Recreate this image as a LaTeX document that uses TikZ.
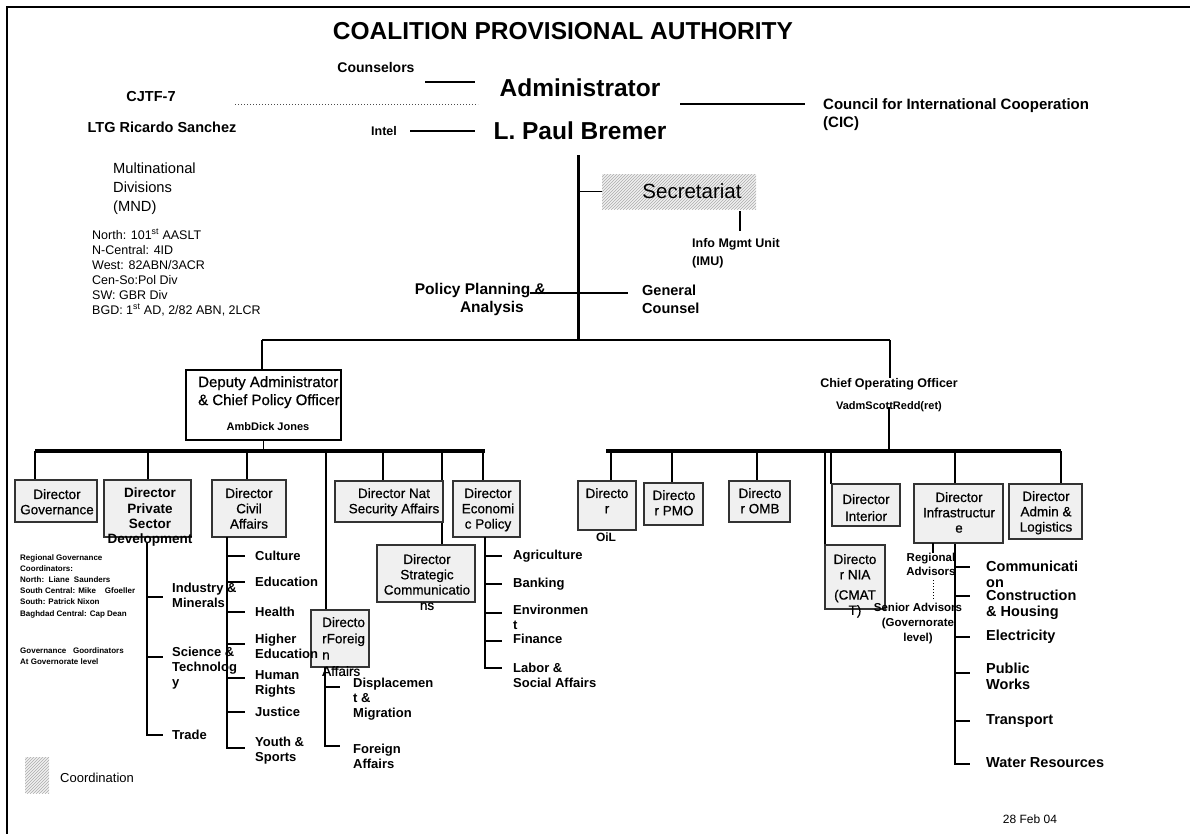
\documentclass[tikz,border=0pt]{standalone}
\usepackage{fontspec}
\setmainfont{Liberation Sans}
\newfontfamily\medfont[FakeBold=0.6]{Liberation Sans}
\usetikzlibrary{patterns}

\newcommand{\fsz}[2]{\fontsize{#1}{#2}\selectfont}

\tikzset{
  every node/.style={inner sep=0pt},
  dbox/.style={draw=black!80, fill=gray!12, line width=1.2pt},
  dtext/.style={align=center, anchor=north, font=\medfont\fsz{13.5}{15.3}},
  sub/.style={anchor=west, align=left, font=\bfseries\fsz{13}{15}},
  infsub/.style={anchor=west, align=left, font=\bfseries\fsz{14.5}{16}},
  lbl/.style={font=\bfseries\fsz{14.5}{17}},
  link/.style={line width=1.3pt},
  bar/.style={line width=3.5pt},
  hatch/.style={fill=gray!12, postaction={pattern=north east lines, pattern color=gray!65}},
}

\begin{document}
\begin{tikzpicture}[x=1pt, y=-1pt]
  \useasboundingbox (0,0) rectangle (1190,833);
  \draw[line width=1.5pt] (7,840) |- (1195,7);

  % top
  \node[font=\bfseries\fsz{24.5}{28}] (title) at (563,31) {COALITION PROVISIONAL AUTHORITY};
  \node[font=\bfseries\fsz{24.5}{28}] (admin) at (580,88) {Administrator};
  \node[font=\bfseries\fsz{24.5}{28}] (bremer) at (580,131) {L. Paul Bremer};
  \node[lbl, font=\bfseries\fsz{14}{17}] (couns) at (376,67) {Counselors};
  \node[font=\bfseries\fsz{12.5}{14}] (intel) at (384,131) {Intel};
  \node[lbl] (cjtf) at (151,97) {CJTF-7};
  \node[lbl] (ltg) at (162,127) {LTG Ricardo Sanchez};
  \node[anchor=west, align=left, font=\bfseries\fsz{15}{18}] (cic) at (823,115)
    {Council for International Cooperation\\(CIC)};

  \coordinate (c1) at (425,82);  \coordinate (c2) at (475,82);
  \coordinate (i1) at (410,131); \coordinate (i2) at (475,131);
  \coordinate (j1) at (235,104); \coordinate (j2) at (478,104);
  \coordinate (k1) at (680,104); \coordinate (k2) at (805,104);
  \draw[link] (c1) -- (c2);
  \draw[link] (i1) -- (i2);
  \draw[link] (k1) -- (k2);
  \draw[line width=1pt, dotted, black!70] (j1) -- (j2);

  % MND
  \node[anchor=north west, align=left, font=\fsz{14.7}{19}] (mnd) at (113,163)
    {Multinational\\Divisions\\(MND)};
  \node[anchor=north west, align=left, font=\fsz{12.5}{15}] (divs) at (92,229)
    {North: 101\textsuperscript{st} AASLT\\N-Central: 4ID\\West: 82ABN/3ACR\\Cen-So:Pol Div\\SW: GBR Div\\BGD: 1\textsuperscript{st} AD, 2/82 ABN, 2LCR};

  % trunk and staff
  \coordinate (t1) at (578,155);
  \coordinate (t2) at (578,340);
  \draw[line width=3pt] (t1) -- (t2);
  \node[hatch, minimum width=154pt, minimum height=35pt] (sec) at (679,191.5) {};
  \node[font=\fsz{20.5}{24}] (sect) at (692,191) {Secretariat};
  \draw[link] (t1 |- sec.west) -- (sec.west);
  \coordinate (imu1) at (740,211);
  \draw[link] (imu1) -- ++(0,20);
  \node[anchor=west, align=left, font=\bfseries\fsz{12.5}{18}] (imu) at (692,253) {Info Mgmt Unit\\(IMU)};
  \coordinate (pp1) at (530,293); \coordinate (pp2) at (628,293);
  \draw[link] (pp1) -- (pp2);
  \node[anchor=north east, align=right, font=\bfseries\fsz{15.5}{18}] (ppa) at (546,283)
    {Policy Planning \&\\Analysis\hspace*{22pt}};
  \node[anchor=west, align=left, font=\bfseries\fsz{14.5}{18}] (gc) at (642,299) {General\\Counsel};

  % deputy and coo
  \coordinate (h1) at (262,340); \coordinate (h2) at (890,340);
  \draw[link] (h1) -- (h2);
  \node[draw, fill=white, line width=1.2pt, minimum width=155pt, minimum height=70pt] (dep) at (263.5,405) {};
  \draw[link] (h1) -- (h1 |- dep.north);
  \node[anchor=north west, align=left, font=\medfont\fsz{15}{18}] (dept) at (198,376)
    {Deputy Administrator\\\& Chief Policy Officer};
  \node[font=\bfseries\fsz{11}{13}] (jones) at (268,427) {AmbDick Jones};
  \node[font=\bfseries\fsz{12.5}{15}] (coo) at (889,384) {Chief Operating Officer};
  \node[font=\bfseries\fsz{11}{13}] (redd) at (889,407) {VadmScottRedd(ret)};
  \draw[link] (h2) -- (h2 |- coo.north);

  % director bars
  \coordinate (lb1) at (35,451);  \coordinate (lb2) at (485,451);
  \coordinate (rb1) at (606,451); \coordinate (rb2) at (1061,451);
  \draw[link] (dep.south) -- (dep.south |- lb1);
  \draw[link] (redd.center) -- (redd.center |- rb1);
  \draw[bar] (lb1) -- (lb2);
  \draw[bar] (rb1) -- (rb2);

  % drops
  \foreach \x/\y in {35/480, 148/480, 247/480, 326/610, 383/481, 442/545, 483/481,
                     611/481, 672/483, 757/481, 825/545, 831/484, 1061/484}
    \draw[link] (\x,451) -- (\x,\y);
  \draw[link] (955,451) -- (955,764) -- (970,764);

  % left directors
  \node[dbox, minimum width=82pt, minimum height=42pt] (gov) at (56,501) {};
  \node[dbox, minimum width=87pt, minimum height=57pt] (psd) at (147.5,508.5) {};
  \node[dbox, minimum width=74pt, minimum height=57pt] (civ) at (249,508.5) {};
  \node[dbox, minimum width=108pt, minimum height=41pt] (nat) at (389,501.5) {};
  \node[dbox, minimum width=98pt, minimum height=57pt] (strat) at (426,573.5) {};
  \node[dbox, minimum width=67pt, minimum height=56pt] (eco) at (486.5,509) {};
  \node[dbox, minimum width=58pt, minimum height=57pt] (fgn) at (340,638.5) {};

  \node[dtext] (govt) at (57,489) {Director\\Governance};
  \node[dtext, font=\bfseries\fsz{13.5}{15.3}] (psdt) at (150,488) {Director\\Private\\Sector\\Development};
  \node[dtext] (civt) at (249,488) {Director\\Civil\\Affairs};
  \node[dtext] (natt) at (394,488) {Director Nat\\Security Affairs};
  \node[dtext] (stratt) at (427,554) {Director\\Strategic\\Communicatio\\ns};
  \node[dtext] (ecot) at (488,488) {Director\\Economi\\c Policy};
  \node[dtext, anchor=north west, align=left, font=\medfont\fsz{13.5}{16.3}] (fgnt) at (322,617) {Directo\\rForeig\\n\\Affairs};

  % right directors
  \node[dbox, minimum width=58pt, minimum height=49pt] (oil) at (607,505.5) {};
  \node[dbox, minimum width=59pt, minimum height=42pt] (pmo) at (673.5,504) {};
  \node[dbox, minimum width=61pt, minimum height=41pt] (omb) at (759.5,501.5) {};
  \node[dbox, minimum width=60pt, minimum height=64pt] (nia) at (855,577) {};
  \node[dbox, minimum width=68pt, minimum height=42pt] (int) at (866,505) {};
  \node[dbox, minimum width=89pt, minimum height=59pt] (inf) at (958.5,513.5) {};
  \node[dbox, minimum width=73pt, minimum height=55pt] (adm) at (1045.5,511.5) {};

  \node[dtext] (oilt) at (607,488) {Directo\\r};
  \node[font=\bfseries\fsz{12}{14}] (oill) at (606,537) {OiL};
  \node[dtext] (pmot) at (674,490) {Directo\\r PMO};
  \node[dtext] (ombt) at (760,488) {Directo\\r OMB};
  \node[dtext] (niat) at (855,554) {Directo\\r NIA\\[5pt](CMAT\\T)};
  \node[dtext, font=\medfont\fsz{13.5}{17}] (intt) at (866,494) {Director\\Interior};
  \node[dtext] (inft) at (959,492) {Director\\Infrastructur\\e};
  \node[dtext] (admt) at (1046,491) {Director\\Admin \&\\Logistics};

  % private sector items
  \draw[link] (147,543) |- (163,735);
  \foreach \y in {597,657} \draw[link] (147,\y) -- (163,\y);
  \node[sub] (ind) at (172,595) {Industry \&\\Minerals};
  \node[sub] (sci) at (172,668) {Science \&\\Technolog\\y};
  \node[sub] (trd) at (172,735) {Trade};

  % civil affairs items
  \draw[link] (227,537) |- (245,748);
  \foreach \y in {556,582,612,644,678,712} \draw[link] (227,\y) -- (245,\y);
  \node[sub] (cult) at (255,556) {Culture};
  \node[sub] (edu) at (255,582) {Education};
  \node[sub] (hlth) at (255,612) {Health};
  \node[sub] (hedu) at (255,646) {Higher\\Education};
  \node[sub] (hum) at (255,684) {Human\\Rights};
  \node[sub] (jus) at (255,712) {Justice};
  \node[sub] (yth) at (255,751) {Youth \&\\Sports};

  % foreign affairs items
  \draw[link] (325,667) |- (340,746);
  \draw[link] (325,687) -- (340,687);
  \node[sub] (disp) at (353,699) {Displacemen\\t \&\\Migration};
  \node[sub] (fora) at (353,756) {Foreign\\Affairs};

  % economic items
  \draw[link] (485,537) |- (502,668);
  \foreach \y in {556,584,613,641} \draw[link] (485,\y) -- (502,\y);
  \node[sub] (agr) at (513,556) {Agriculture};
  \node[sub] (bnk) at (513,584) {Banking};
  \node[sub] (env) at (513,617) {Environmen\\t};
  \node[sub] (fin) at (513,639) {Finance};
  \node[sub] (lab) at (513,675) {Labor \&\\Social Affairs};

  % infrastructure items
  \foreach \y in {567,596,637,673,721} \draw[link] (955,\y) -- (970,\y);
  \node[infsub] (com) at (986,574) {Communicati\\on};
  \node[infsub] (con) at (986,605) {Construction\\\& Housing};
  \node[infsub] (ele) at (986,637) {Electricity};
  \node[infsub] (pub) at (986,676) {Public\\Works};
  \node[infsub] (trn) at (986,721) {Transport};
  \node[infsub] (wat) at (986,763) {Water Resources};

  \node[align=center, font=\bfseries\fsz{11.5}{14}] (reg) at (931,564) {Regional\\Advisors};
  \draw[link] (reg.north -| 933,0) -- (933,543);
  \node[align=center, font=\bfseries\fsz{11.5}{15}] (sen) at (918,624) {Senior Advisors\\(Governorate\\level)};
  \draw[line width=1pt, dotted] (933,580) -- (933,600);

  % governance notes
  \node[anchor=north west, align=left, font=\bfseries\fsz{8}{11.2}] (rgc) at (20,554)
    {Regional Governance\\Coordinators:\\North:\ \ Liane\ \ Saunders\\South Central: Mike\ \ \ \ Gfoeller\\South: Patrick Nixon\\Baghdad Central: Cap Dean};
  \node[anchor=north west, align=left, font=\bfseries\fsz{8}{11.2}] (ggc) at (20,647)
    {Governance\ \ \ Goordinators\\At Governorate level};

  % legend and date
  \node[hatch, minimum width=24pt, minimum height=36pt] (leg) at (37,775) {};
  \node[anchor=west, font=\fsz{13}{15}] (legt) at (60,778) {Coordination};
  \node[font=\fsz{12}{14}] (date) at (1030,819) {28 Feb 04};
\end{tikzpicture}
\end{document}
